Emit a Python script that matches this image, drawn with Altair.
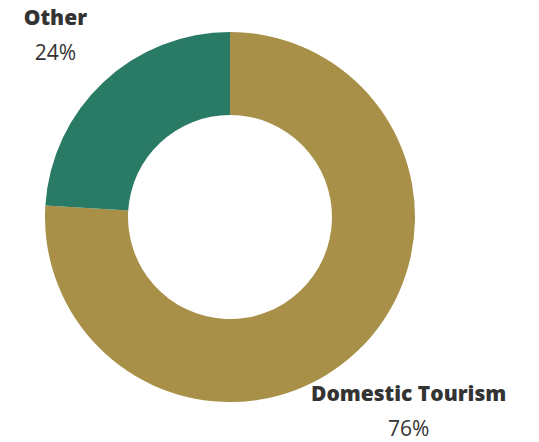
import altair as alt
import pandas as pd

categories = ["Domestic Tourism", "Other"]
shares = [76, 24]
labels = ["76%", "24%"]
colors = ["#A89048", "#2A7B66"]

df = pd.DataFrame({
    "category": categories,
    "share": shares,
    "label": labels,
    "rank": list(range(len(categories))),
})

base = alt.Chart(df).encode(
    theta=alt.Theta("share:Q", stack=True),
    order=alt.Order("rank:Q"),
)

arc = base.mark_arc(outerRadius=185, innerRadius=102, stroke=None).encode(
    color=alt.Color("category:N", scale=alt.Scale(domain=categories, range=colors), legend=None)
)

name = base.mark_text(radius=258, dy=-10, dx=2, font="Open Sans", fontWeight=800, fontSize=21, color="#333333").encode(
    text="category:N"
)
pct = base.mark_text(radius=258, dy=25, dx=2, font="Open Sans", fontWeight=400, fontSize=21, color="#333333").encode(
    text="label:N"
)

chart = alt.layer(arc, name, pct).properties(
    width=444, height=418,
    autosize=alt.AutoSizeParams(type="none"),
    padding={"left": 0, "top": 0, "right": 76, "bottom": 14},
).configure_view(stroke=None)

chart.save("out.html", embed_options={"renderer": "svg", "actions": False})
